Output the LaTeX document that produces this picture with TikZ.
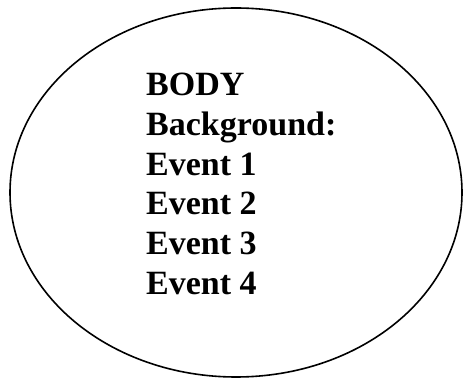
\documentclass[tikz,border=0pt]{standalone}
\usepackage{fontspec}
\setmainfont{Liberation Serif}
\usetikzlibrary{shapes.geometric, positioning}

\begin{document}
\begin{tikzpicture}[
    x=1pt, y=-1pt,
    oval/.style={draw, ellipse, line width=1.6pt, inner sep=0pt, minimum width=452pt, minimum height=369pt},
    line/.style={anchor=base west, inner sep=0pt, font=\fontsize{34}{39.5}\selectfont\bfseries}
]
    \useasboundingbox (0,0) rectangle (464,379);
    \node[oval] (body) at (236,192.5) {};
    \node[line] (t0) at (146,96) {BODY};
    \node[line] (t1) at (146,135.5) {Background:};
    \node[line] (t2) at (146,175.5) {Event 1};
    \node[line] (t3) at (146,215) {Event 2};
    \node[line] (t4) at (146,255) {Event 3};
    \node[line] (t5) at (146,294.5) {Event 4};
\end{tikzpicture}
\end{document}
